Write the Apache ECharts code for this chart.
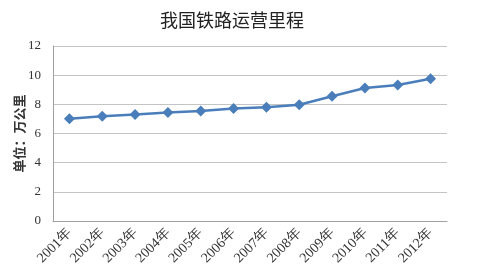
<!DOCTYPE html>
<html><head><meta charset="utf-8">
<script src="https://cdn.jsdelivr.net/npm/echarts@6/dist/echarts.min.js"></script>
<style>html,body{margin:0;padding:0;background:#fff}#c{width:477px;height:275px}</style>
</head><body><div id="c"></div>
<script>
const categories = ['2001年','2002年','2003年','2004年','2005年','2006年','2007年','2008年','2009年','2010年','2011年','2012年'];
const mileage = [7.01, 7.19, 7.30, 7.44, 7.54, 7.71, 7.80, 7.97, 8.55, 9.12, 9.32, 9.76];
const title = '我国铁路运营里程';
const yName = '单位：万公里';

const chart = echarts.init(document.getElementById('c'));
chart.setOption({
  animation: false,
  title: {text: title, left: 227, top: 6, textAlign: 'center',
    textStyle: {fontFamily: 'Noto Sans CJK SC', fontSize: 18, fontWeight: 'normal', color: '#222'}},
  grid: {left: 53, right: 30, top: 46, bottom: 54, outerBoundsMode: 'none', containLabel: false},
  xAxis: {type: 'category', data: categories, boundaryGap: true,
    axisLine: {lineStyle: {color: '#a0a0a0'}},
    axisTick: {show: false},
    axisLabel: {rotate: 45, interval: 0, fontFamily: 'Liberation Serif', fontSize: 14, color: '#333', margin: 10}},
  yAxis: {type: 'value', min: 0, max: 12, interval: 2,
    name: yName, nameLocation: 'middle', nameGap: 27, nameRotate: 90, nameMoveOverlap: false,
    nameTextStyle: {fontFamily: 'Noto Sans CJK SC', fontSize: 13, fontWeight: 'bold', color: '#333'},
    axisLine: {show: true, lineStyle: {color: '#a0a0a0'}},
    axisTick: {show: false},
    splitLine: {lineStyle: {color: '#c4c4c4'}},
    axisLabel: {fontFamily: 'Liberation Serif', fontSize: 13, color: '#333', margin: 12}},
  series: [{type: 'line', data: mileage, symbol: 'diamond', symbolSize: 11,
    lineStyle: {color: '#4a7ebb', width: 2.5},
    itemStyle: {color: '#4a7ebb'}}]
});
</script></body></html>
